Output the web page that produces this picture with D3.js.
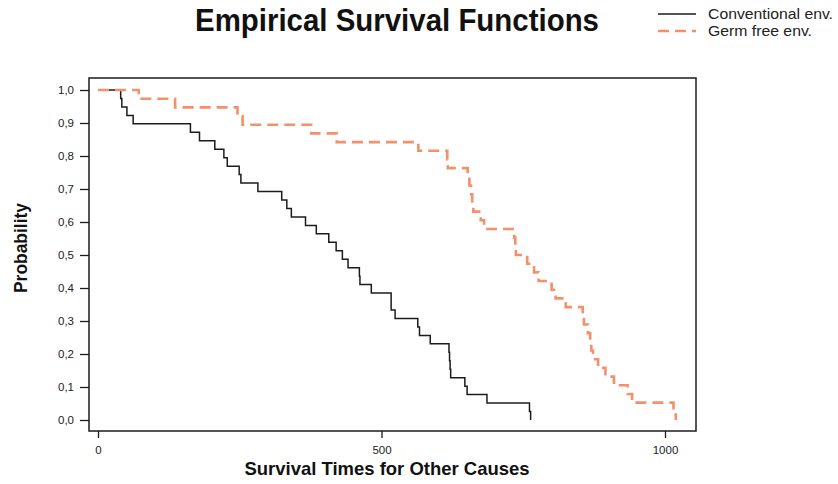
<!DOCTYPE html>
<html>
<head>
<meta charset="utf-8">
<script src="https://cdn.jsdelivr.net/npm/d3@7"></script>
<style>
  html, body { margin: 0; padding: 0; background: #fff; }
  svg { display: block; font-family: "Liberation Sans", Arial, sans-serif; }
</style>
</head>
<body>
<svg id="chart" width="838" height="484"></svg>
<script>
// ---- Data ----
const seriesNames = ["Conventional env.", "Germ free env."];
// event times (days) for each group; every step of the empirical survival function is one event
const conventionalTimes = [40, 42, 51, 62, 163, 179, 206, 222, 228, 249, 252, 282, 324, 333, 341,
  366, 385, 407, 420, 431, 441, 461, 462, 482, 517, 517, 524, 564, 567, 586,
  619, 620, 621, 622, 647, 651, 686, 761, 763];
const germFreeTimes = [72, 136, 246, 255, 376, 421, 565, 616, 617, 652, 655, 658, 660, 662,
  675, 681, 734, 736, 737, 757, 769, 777, 800, 807, 825, 855, 857, 864, 868, 870,
  873, 882, 895, 910, 934, 942, 1015, 1019];
const xTickValues = [0, 500, 1000];
const yTickValues = [0.0, 0.1, 0.2, 0.3, 0.4, 0.5, 0.6, 0.7, 0.8, 0.9, 1.0];
const titleText = "Empirical Survival Functions";
const xLabel = "Survival Times for Other Causes";
const yLabel = "Probability";

// ---- Empirical survival function ----
function survivalSteps(times) {
  const n = times.length;
  const sorted = times.slice().sort((a, b) => a - b);
  const grouped = d3.rollups(sorted, v => v.length, d => d).sort((a, b) => a[0] - b[0]);
  let atRisk = n;
  const pts = [[0, 1]];
  for (const [t, d] of grouped) {
    atRisk -= d;
    pts.push([t, atRisk / n]);
  }
  return pts;
}

// ---- Layout ----
const svg = d3.select("#chart");
svg.append("rect").attr("width", 838).attr("height", 484).attr("fill", "#fff");

const frame = { left: 89, right: 696, top: 78, bottom: 431 };
const x = d3.scaleLinear().domain([0, 1000]).range([98, 665]);
const y = d3.scaleLinear().domain([0, 1]).range([420, 90]);

const colConv = "#1c1c1c";
const colGerm = "#f4906a";

// curves
const line = d3.line().x(d => x(d[0])).y(d => y(d[1])).curve(d3.curveStepAfter);

svg.append("path")
  .datum(survivalSteps(conventionalTimes))
  .attr("d", line)
  .attr("fill", "none")
  .attr("stroke", colConv)
  .attr("stroke-width", 1.5);

svg.append("path")
  .datum(survivalSteps(germFreeTimes))
  .attr("d", line)
  .attr("fill", "none")
  .attr("stroke", colGerm)
  .attr("stroke-width", 2.6)
  .attr("stroke-dasharray", "11,6");

// frame
svg.append("rect")
  .attr("x", frame.left).attr("y", frame.top)
  .attr("width", frame.right - frame.left).attr("height", frame.bottom - frame.top)
  .attr("fill", "none").attr("stroke", "#1c1c1c").attr("stroke-width", 1.5);

// axes
const fmt = d3.format(".1f");
const yAxis = d3.axisLeft(y).tickValues(yTickValues).tickSize(9).tickPadding(6)
  .tickFormat(d => fmt(d).replace(".", ","));
const gy = svg.append("g").attr("transform", `translate(${frame.left},0)`).call(yAxis);
gy.select(".domain").remove();
gy.selectAll(".tick line").attr("stroke", "#1c1c1c").attr("stroke-width", 1.3);
gy.selectAll(".tick text").attr("fill", "#222").style("font-size", "11.5px")
  .style("font-family", "'Liberation Sans', Arial, sans-serif");

const xAxis = d3.axisBottom(x).tickValues(xTickValues).tickSize(7).tickPadding(8)
  .tickFormat(d3.format("d"));
const gx = svg.append("g").attr("transform", `translate(0,${frame.bottom})`).call(xAxis);
gx.select(".domain").remove();
gx.selectAll(".tick line").attr("stroke", "#1c1c1c").attr("stroke-width", 1.3);
gx.selectAll(".tick text").attr("fill", "#222").style("font-size", "11.5px")
  .style("font-family", "'Liberation Sans', Arial, sans-serif");

// title
svg.append("text")
  .attr("x", 397).attr("y", 31)
  .attr("text-anchor", "middle")
  .attr("font-size", 31)
  .attr("font-weight", "bold")
  .attr("fill", "#111")
  .attr("textLength", 404).attr("lengthAdjust", "spacingAndGlyphs")
  .text(titleText);

// axis titles
svg.append("text")
  .attr("x", 387).attr("y", 475)
  .attr("text-anchor", "middle")
  .attr("font-size", 19)
  .attr("font-weight", "bold")
  .attr("fill", "#111")
  .attr("textLength", 285).attr("lengthAdjust", "spacingAndGlyphs")
  .text(xLabel);

svg.append("text")
  .attr("transform", "translate(27,248) rotate(-90)")
  .attr("text-anchor", "middle")
  .attr("font-size", 19)
  .attr("font-weight", "bold")
  .attr("fill", "#111")
  .attr("textLength", 90).attr("lengthAdjust", "spacingAndGlyphs")
  .text(yLabel);

// legend
const legend = svg.append("g");
const legendItems = [
  { name: seriesNames[0], color: colConv, width: 1.5, dash: null, y: 14 },
  { name: seriesNames[1], color: colGerm, width: 2.6, dash: "11,6", y: 31 }
];
legendItems.forEach(it => {
  legend.append("line")
    .attr("x1", 658).attr("x2", 696).attr("y1", it.y).attr("y2", it.y)
    .attr("stroke", it.color).attr("stroke-width", it.width)
    .attr("stroke-dasharray", it.dash);
  legend.append("text")
    .attr("x", 708).attr("y", it.y + 5)
    .attr("font-size", 15)
    .attr("fill", "#222")
    .attr("textLength", it.name.length === 17 ? 125 : 104)
    .attr("lengthAdjust", "spacingAndGlyphs")
    .text(it.name);
});
</script>
</body>
</html>
